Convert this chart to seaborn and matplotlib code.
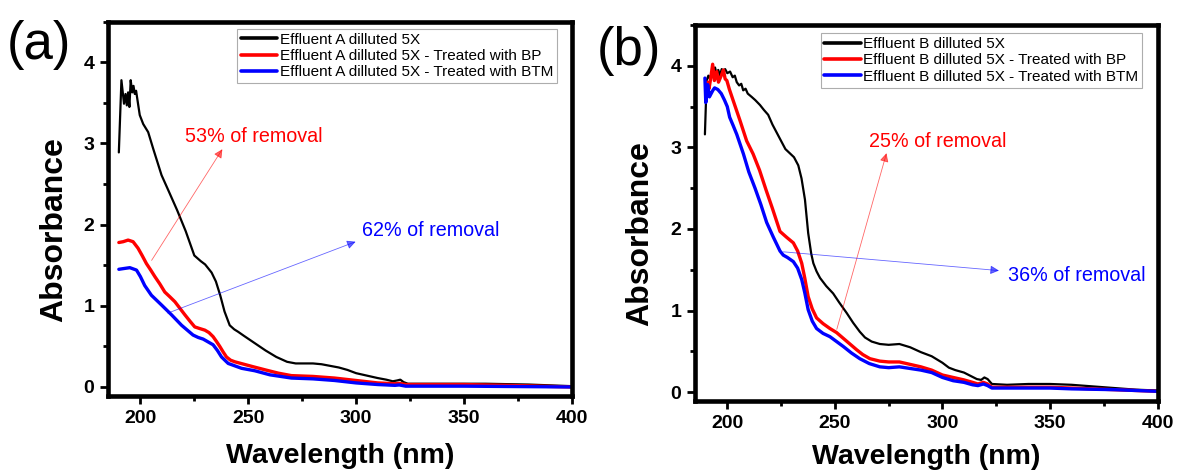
import numpy as np
import pandas as pd
import seaborn as sns
import matplotlib.pyplot as plt
from matplotlib.ticker import MultipleLocator

sns.set_theme(style='white')
plt.rcParams['font.family'] = ['Liberation Sans', 'DejaVu Sans']
plt.rcParams.update({'text.color': 'black', 'axes.labelcolor': 'black',
                     'xtick.color': 'black', 'ytick.color': 'black'})

# ---- panel (a): effluent A ----
wl_a_raw = [190, 191.2, 192.4, 193.1, 193.7, 194.3, 194.9, 195.5, 196.2, 196.8, 197.4, 198.0, 198.9, 199.7,
            201.3, 203.6, 206, 209.8, 213, 217, 221, 225, 228, 230, 233, 235, 237, 239, 241.4, 243.5, 245.3,
            248, 253, 258, 263, 268, 272, 276, 280, 284, 288, 292, 296, 300, 305, 310, 314, 317, 319, 320.5,
            322, 324, 330, 340, 350, 360, 370, 380, 390, 400]
abs_a_raw = [2.89, 3.78, 3.49, 3.61, 3.47, 3.63, 3.45, 3.78, 3.63, 3.71, 3.61, 3.65, 3.49, 3.35,
             3.24, 3.14, 2.93, 2.61, 2.42, 2.18, 1.92, 1.62, 1.55, 1.51, 1.41, 1.30, 1.13, 0.93, 0.76, 0.71, 0.68,
             0.63, 0.54, 0.45, 0.37, 0.31, 0.29, 0.29, 0.29, 0.28, 0.26, 0.24, 0.21, 0.17, 0.14, 0.11, 0.09, 0.07,
             0.08, 0.09, 0.06, 0.04, 0.04, 0.04, 0.04, 0.04, 0.035, 0.03, 0.02, 0.01]

wl_a_bp = [190, 192, 194.3, 196.6, 198.9, 200.8, 202.8, 204.8, 206.7, 209, 211.3, 213.7, 216, 218.3, 220.6,
           223, 225.2, 227.5, 229.9, 231.8, 233.7, 235.3, 236.8, 238.4, 239.9, 241.8, 243.8, 248, 252.2, 258,
           264, 270, 280, 290, 300, 310, 318, 320, 323, 330, 350, 370, 400]
abs_a_bp = [1.78, 1.79, 1.81, 1.79, 1.71, 1.62, 1.52, 1.44, 1.36, 1.27, 1.17, 1.11, 1.05, 0.97, 0.89,
            0.81, 0.74, 0.72, 0.70, 0.67, 0.62, 0.56, 0.50, 0.43, 0.37, 0.33, 0.31, 0.28, 0.25, 0.21,
            0.17, 0.14, 0.13, 0.11, 0.08, 0.05, 0.04, 0.045, 0.03, 0.03, 0.03, 0.02, 0.0]

wl_a_btm = [190, 192.5, 195.1, 198.2, 200, 202, 205.1, 209.8, 214.4, 219.1, 224.4, 226.8, 229.1, 233.7, 235.7,
            237.6, 240.7, 243.8, 246.9, 253, 260, 270, 280, 290, 300, 310, 318, 320, 323, 330, 350, 400]
abs_a_btm = [1.45, 1.46, 1.47, 1.44, 1.36, 1.25, 1.13, 1.01, 0.89, 0.76, 0.64, 0.61, 0.59, 0.52, 0.45,
             0.37, 0.29, 0.26, 0.23, 0.20, 0.15, 0.11, 0.10, 0.08, 0.05, 0.03, 0.02, 0.025, 0.01, 0.01, 0.01, 0.0]

# ---- panel (b): effluent B ----
wl_b_raw = [189.6, 190.4, 191.2, 192, 192.8, 193.6, 194.3, 195, 195.8, 196.6, 197.4, 198.1, 199, 200, 201.3,
            202.5, 203.5, 204.4, 205.5, 206.5, 207.4, 208.5, 209.5, 211.3, 213, 215.2, 217, 219, 221, 223, 225,
            227, 229, 231, 233, 234.5, 236.1, 237.6, 239, 240, 241.5, 243.1, 246, 249.2, 252, 255.5, 258.5,
            261.6, 264, 267.1, 270.9, 275, 280, 285, 290, 295, 300, 303, 306, 310, 313, 316, 318, 319.5, 321,
            323, 330, 340, 350, 360, 370, 380, 390, 400]
abs_b_raw = [3.16, 3.82, 3.88, 3.84, 3.93, 3.87, 3.98, 3.90, 3.95, 3.88, 3.96, 3.93, 3.96, 3.91, 3.93,
             3.86, 3.88, 3.80, 3.76, 3.78, 3.70, 3.72, 3.66, 3.62, 3.58, 3.52, 3.46, 3.40, 3.28, 3.18, 3.08,
             2.98, 2.93, 2.88, 2.78, 2.62, 2.36, 1.95, 1.70, 1.58, 1.48, 1.40, 1.30, 1.21, 1.10, 0.97, 0.85,
             0.74, 0.67, 0.62, 0.59, 0.58, 0.59, 0.55, 0.49, 0.44, 0.36, 0.30, 0.27, 0.24, 0.20, 0.16, 0.15,
             0.18, 0.16, 0.10, 0.09, 0.10, 0.10, 0.09, 0.07, 0.05, 0.03, 0.02]

wl_b_bp = [190, 190.8, 191.5, 192.3, 193.2, 194, 195.1, 195.9, 196.7, 197.5, 198.2, 199, 199.8, 201, 202.8,
           205.9, 209, 212, 215, 218, 221, 224.5, 227.5, 230.7, 232.7, 234.6, 236, 237.6, 239.5, 241.5, 244.5,
           247.7, 250.8, 253.9, 257, 260.1, 263, 266.3, 270.9, 275, 280, 285, 290, 295, 300, 305, 310, 314,
           316.5, 319, 321, 323, 330, 340, 350, 360, 370, 380, 390, 400]
abs_b_bp = [3.77, 3.80, 3.72, 3.85, 4.02, 3.82, 3.93, 3.80, 3.85, 3.90, 3.95, 3.84, 3.82, 3.71, 3.57,
            3.33, 3.08, 2.92, 2.72, 2.48, 2.25, 1.97, 1.90, 1.83, 1.73, 1.58, 1.40, 1.17, 1.02, 0.91, 0.84,
            0.78, 0.73, 0.66, 0.59, 0.52, 0.46, 0.41, 0.38, 0.37, 0.37, 0.34, 0.31, 0.27, 0.21, 0.18, 0.15, 0.12,
            0.10, 0.12, 0.10, 0.06, 0.06, 0.06, 0.06, 0.05, 0.04, 0.03, 0.02, 0.01]

wl_b_btm = [189.6, 190, 190.9, 191.7, 192.5, 193.3, 194.1, 195.6, 197.2, 198.7, 200, 201.1, 202.7, 204.4,
            207.5, 210, 212.9, 215.6, 218.3, 221.4, 224.5, 226, 228, 230.7, 232.7, 234.6, 236, 237.6, 239.5,
            241.5, 244.5, 247.7, 250.8, 253.9, 257.7, 261.6, 266, 270.9, 275, 280, 285, 290, 295, 300, 305, 310,
            314, 316.5, 319, 321, 323, 330, 340, 350, 360, 380, 400]
abs_b_btm = [3.85, 3.55, 3.77, 3.62, 3.66, 3.70, 3.73, 3.71, 3.66, 3.58, 3.50, 3.37, 3.27, 3.16,
             2.92, 2.70, 2.50, 2.30, 2.08, 1.90, 1.73, 1.68, 1.65, 1.60, 1.52, 1.38, 1.22, 1.01, 0.87,
             0.78, 0.72, 0.68, 0.62, 0.56, 0.48, 0.41, 0.35, 0.31, 0.30, 0.31, 0.29, 0.27, 0.24, 0.18, 0.14, 0.12,
             0.09, 0.08, 0.10, 0.08, 0.05, 0.05, 0.05, 0.05, 0.04, 0.03, 0.01]

labels_a = ["Effluent A dilluted 5X", "Effluent A dilluted 5X - Treated with BP",
            "Effluent A dilluted 5X - Treated with BTM"]
labels_b = ["Effluent B dilluted 5X", "Effluent B dilluted 5X - Treated with BP",
            "Effluent B dilluted 5X - Treated with BTM"]
colors = ["#000000", "#ff0000", "#0000ff"]
widths = [1.6, 2.4, 2.4]


def draw_panel(ax, series, labels, notes, xlim, legend_anchor, ylabel_x, xlabel_pad):
    for (wl, ab), label, color, lw in zip(series, labels, colors, widths):
        df = pd.DataFrame({"wl": wl, "abs": ab})
        sns.lineplot(data=df, x="wl", y="abs", ax=ax, color=color, lw=lw, label=label,
                     estimator=None, sort=False)

    for text, color, start, end, tpos in notes:
        ax.annotate("", xy=end, xytext=start,
                    arrowprops=dict(arrowstyle="-|>", color=color, lw=0.6, alpha=0.6,
                                    mutation_scale=13, shrinkA=0, shrinkB=0))
        ax.text(tpos[0], tpos[1], text, color=color, fontsize=14.2, va="center", ha="left")

    ax.set_xlim(*xlim)
    ax.set_ylim(-0.11, 4.5)
    ax.xaxis.set_major_locator(MultipleLocator(50))
    ax.xaxis.set_minor_locator(MultipleLocator(25))
    ax.yaxis.set_major_locator(MultipleLocator(1))
    ax.yaxis.set_minor_locator(MultipleLocator(0.5))
    ax.tick_params(which="major", direction="out", length=6, width=2, labelsize=14,
                   bottom=True, left=True, pad=4)
    ax.tick_params(which="minor", direction="out", length=3.5, width=2, bottom=True, left=True)
    for lab in ax.get_xticklabels() + ax.get_yticklabels():
        lab.set_fontweight("bold")
    for sp in ax.spines.values():
        sp.set_linewidth(3.3)
        sp.set_color("black")
    ax.set_xlabel("Wavelength (nm)", fontsize=20.5, fontweight="bold", labelpad=xlabel_pad)
    ax.set_ylabel("Absorbance", fontsize=23, fontweight="bold")
    ax.yaxis.set_label_coords(ylabel_x, 0.445)

    leg = ax.legend(loc="upper right", bbox_to_anchor=legend_anchor, borderaxespad=0,
                    fontsize=11, frameon=True, fancybox=False, handlelength=2.4,
                    handletextpad=0.15, labelspacing=0.15, borderpad=0.25)
    leg.get_frame().set_edgecolor("#999999")
    leg.get_frame().set_linewidth(0.8)
    for h in leg.get_lines():
        h.set_linewidth(2.6)


fig = plt.figure(figsize=(11.77, 4.73), dpi=100)
ax_a = fig.add_axes([0.0918, 0.163, 0.394, 0.791])
ax_b = fig.add_axes([0.5905, 0.152, 0.393, 0.795])

notes_a = [("53% of removal", "#ff0000", (205.2, 1.56), (238, 2.93), (220.6, 3.09)),
           ("62% of removal", "#0000ff", (212.7, 0.91), (299.8, 1.79), (302.8, 1.93))]
notes_b = [("25% of removal", "#ff0000", (250.9, 0.77), (274, 2.93), (266, 3.07)),
           ("36% of removal", "#0000ff", (226.1, 1.72), (326.3, 1.49), (330.3, 1.43))]

draw_panel(ax_a, [(wl_a_raw, abs_a_raw), (wl_a_bp, abs_a_bp), (wl_a_btm, abs_a_btm)],
           labels_a, notes_a, (185, 400), (0.968, 0.981), -0.083, 12)
draw_panel(ax_b, [(wl_b_raw, abs_b_raw), (wl_b_bp, abs_b_bp), (wl_b_btm, abs_b_btm)],
           labels_b, notes_b, (185, 400), (0.967, 0.978), -0.087, 9)

fig.text(0.006, 0.905, "(a)", fontsize=38, va="center", ha="left")
fig.text(0.507, 0.893, "(b)", fontsize=38, va="center", ha="left")

fig.savefig("out.png", dpi=100, facecolor="white")
